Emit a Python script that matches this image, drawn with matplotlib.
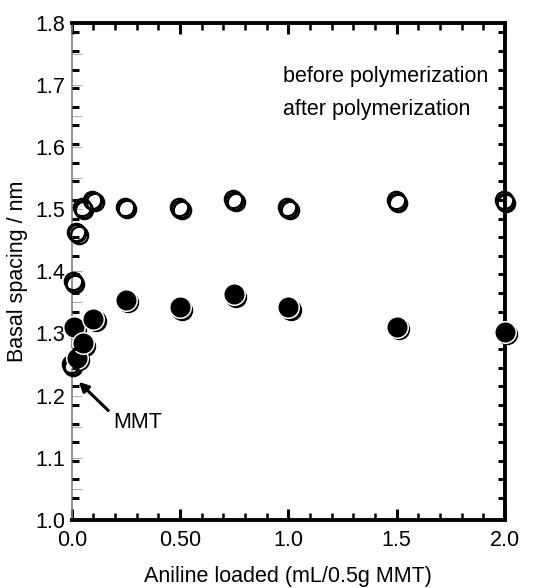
import numpy as np
import matplotlib
matplotlib.use("Agg")
import matplotlib.pyplot as plt
from matplotlib.transforms import offset_copy

plt.rcParams['font.family'] = ['Liberation Sans', 'DejaVu Sans']

# before polymerization (open circles)
before_x = [0.0, 0.01, 0.025, 0.05, 0.1, 0.25, 0.5, 0.75, 1.0, 1.5, 2.0]
before_y = [1.248, 1.382, 1.461, 1.501, 1.513, 1.502, 1.501, 1.514, 1.501, 1.512, 1.512]

# after polymerization (filled circles)
after_x = [0.01, 0.025, 0.05, 0.1, 0.25, 0.5, 0.75, 1.0, 1.5, 2.0]
after_y = [1.311, 1.261, 1.284, 1.323, 1.354, 1.342, 1.363, 1.342, 1.311, 1.303]

x_ticks = [0.0, 0.5, 1.0, 1.5, 2.0]
x_labels = ["0.0", "0.50", "1.0", "1.5", "2.0"]
y_ticks = [1.0, 1.1, 1.2, 1.3, 1.4, 1.5, 1.6, 1.7, 1.8]

fig = plt.figure(figsize=(5.36, 5.88), dpi=100)
ax = fig.add_axes([0.134, 0.116, 0.808, 0.845])

ms = 12.5
fs = 15.5

# sketchy open circles: same points drawn a few times, nudged by a pixel or two
for dx, dy in [(0, 0), (1.5, -1.2), (-1.0, 1.5)]:
    tr = offset_copy(ax.transData, fig=fig, x=dx, y=dy, units='dots')
    ax.plot(before_x, before_y, 'o', ms=ms, mfc='none', mec='black', mew=1.6,
            transform=tr, clip_on=False, zorder=3)

# filled circles with an offset outline ring (white crescent look)
for dx, dy in [(2.2, -2.2), (1.2, -1.2)]:
    tr = offset_copy(ax.transData, fig=fig, x=dx, y=dy, units='dots')
    ax.plot(after_x, after_y, 'o', ms=ms + 1.5, mfc='none', mec='black', mew=1.4,
            transform=tr, clip_on=False, zorder=4)
ax.plot(after_x, after_y, 'o', ms=ms + 3.0, mfc='black', mec='white', mew=1.1,
        clip_on=False, zorder=5)

ax.set_xlim(0, 2.0)
ax.set_ylim(1.0, 1.8)

ax.set_xticks(x_ticks)
ax.set_xticklabels(x_labels)
ax.set_xticks(np.arange(0, 2.01, 0.1), minor=True)
ax.set_yticks(y_ticks)
ax.set_yticks(np.arange(1.0, 1.81, 0.05), minor=True)

ax.tick_params(axis='x', which='major', direction='in', top=True, length=8, width=2.2,
               color='black', labelsize=fs, pad=7)
ax.tick_params(axis='x', which='minor', direction='in', top=True, length=5, width=1.8,
               color='black')
ax.tick_params(axis='y', which='both', direction='in', left=True, right=True, length=7,
               width=0.8, color='#b0b0b0', labelsize=fs, pad=5)

for side in ['top', 'bottom', 'right']:
    ax.spines[side].set_linewidth(2.8)
    ax.spines[side].set_color('black')
ax.spines['left'].set_linewidth(1.2)
ax.spines['left'].set_color('#808080')

# second set of black ticks on the y sides
ax2 = ax.twinx()
ax2.set_ylim(1.0, 1.8)
ax2.set_yticks(np.arange(1.035, 1.8, 0.03))
ax2.tick_params(axis='y', direction='in', left=True, right=True, labelleft=False,
                labelright=False, length=5, width=2.2, color='black')
for side in ax2.spines:
    ax2.spines[side].set_visible(False)

ax.set_xlabel("Aniline loaded (mL/0.5g MMT)", fontsize=fs, labelpad=11)
ax.set_ylabel("Basal spacing / nm", fontsize=fs, labelpad=5)

ax.text(0.975, 1.713, "before polymerization", fontsize=fs, ha='left', va='center')
ax.text(0.975, 1.660, "after polymerization", fontsize=fs, ha='left', va='center')

ax.annotate("", xy=(0.032, 1.222), xytext=(0.168, 1.176),
            arrowprops=dict(arrowstyle='-|>', color='black', lw=2.2, mutation_scale=14,
                            shrinkA=0, shrinkB=0))
ax.text(0.19, 1.156, "MMT", fontsize=fs, ha='left', va='center')

fig.savefig("out.png", dpi=100)
